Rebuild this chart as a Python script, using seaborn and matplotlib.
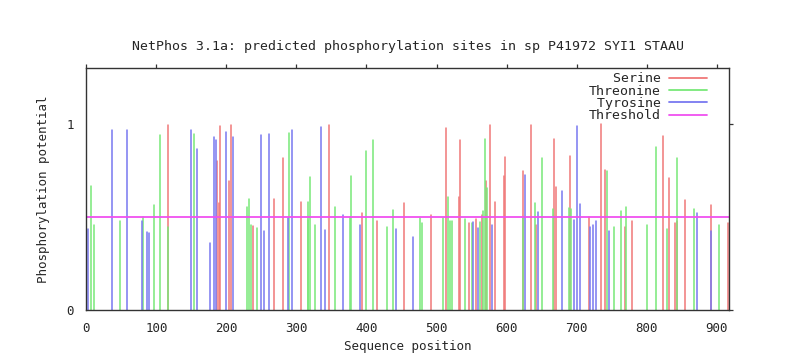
import pandas as pd
import matplotlib
matplotlib.use('Agg')
import matplotlib.pyplot as plt
from matplotlib.lines import Line2D
import seaborn as sns

# values (position, score)
serine_pos = [116, 187, 189, 191, 204, 206, 238, 268, 281, 306, 346, 393, 415.5,
              453.5, 492, 513, 532, 533.5, 546, 556, 565, 570, 577, 584, 597, 598,
              623, 634.5, 642, 668, 671, 690.5, 717, 735, 740, 769, 779, 824, 832,
              840.5, 844, 855, 892, 916.5]
serine_val = [0.996, 0.80, 0.575, 0.991, 0.696, 0.996, 0.454, 0.596, 0.82, 0.583,
              0.996, 0.521, 0.479, 0.578, 0.51, 0.978, 0.607, 0.915, 0.467, 0.488,
              0.512, 0.696, 0.996, 0.583, 0.723, 0.822, 0.75, 0.996, 0.458, 0.921,
              0.661, 0.829, 0.499, 1.0, 0.754, 0.445, 0.479, 0.937, 0.709, 0.467,
              0.48, 0.592, 0.565, 0.47]

threonine_pos = [6.3, 11, 48, 81, 96, 105, 117, 154, 230, 232, 235, 243, 289, 316.5,
                 317, 320, 326.5, 355.5, 376.5, 378, 399, 409, 429, 438, 476, 479,
                 509, 516, 519, 521.5, 541, 550, 562, 567, 569, 572, 624, 640.5,
                 650.5, 667, 689.5, 692.5, 743, 753, 763, 771, 800.5, 814, 829, 844,
                 868, 903]
threonine_val = [0.668, 0.458, 0.479, 0.502, 0.565, 0.942, 0.449, 0.948, 0.553, 0.596,
                 0.458, 0.443, 0.951, 0.485, 0.583, 0.718, 0.458, 0.556, 0.499, 0.723,
                 0.853, 0.915, 0.449, 0.539, 0.497, 0.467, 0.497, 0.607, 0.479, 0.479,
                 0.488, 0.467, 0.476, 0.53, 0.919, 0.655, 0.50, 0.575, 0.817, 0.542,
                 0.548, 0.542, 0.749, 0.449, 0.535, 0.553, 0.458, 0.879, 0.434, 0.817,
                 0.542, 0.458]

tyrosine_pos = [2.4, 37, 58, 79, 87, 89, 150, 158.5, 177, 183, 185, 199.5, 209.5, 250,
                253, 261, 288, 294, 335, 341, 367, 391, 442, 466, 552.5, 559, 579, 627,
                645, 679, 696, 701, 705, 719.5, 723, 728, 746, 872, 892.5]
tyrosine_val = [0.436, 0.966, 0.969, 0.479, 0.42, 0.413, 0.969, 0.865, 0.362, 0.928,
                0.915, 0.958, 0.933, 0.941, 0.425, 0.946, 0.494, 0.969, 0.984, 0.431,
                0.51, 0.458, 0.436, 0.391, 0.476, 0.44, 0.458, 0.727, 0.528, 0.639,
                0.485, 0.991, 0.569, 0.449, 0.458, 0.479, 0.425, 0.521, 0.425]

threshold = 0.5
seq_len = 918

residues = ['Serine', 'Threonine', 'Tyrosine']
colors = {'Serine': '#f07878', 'Threonine': '#78e878', 'Tyrosine': '#7878f0'}
thr_color = '#f050f0'

# each site as a vertical segment: (pos, 0) -> (pos, score)
rows = []
site = 0
for name, ps, vs in [('Serine', serine_pos, serine_val),
                     ('Threonine', threonine_pos, threonine_val),
                     ('Tyrosine', tyrosine_pos, tyrosine_val)]:
    for p, v in zip(ps, vs):
        rows.append({'pos': p, 'score': 0.0, 'residue': name, 'site': site})
        rows.append({'pos': p, 'score': v, 'residue': name, 'site': site})
        site += 1
df = pd.DataFrame(rows)

sns.set_style('white')
plt.rcParams['font.family'] = ['DejaVu Sans Mono']
plt.rcParams['font.size'] = 9

fig = plt.figure(figsize=(8.03, 3.59), dpi=100)
ax = fig.add_axes([0.1075, 0.1365, 0.8007, 0.6732])

sns.lineplot(data=df, x='pos', y='score', hue='residue', units='site',
             estimator=None, sort=False, palette=colors, hue_order=residues,
             linewidth=1.1, legend=False, ax=ax)
ax.axhline(threshold, color=thr_color, linewidth=1.3)

ax.set_xlim(0, seq_len)
ax.set_ylim(0, 1.3)
ax.set_xticks(range(0, 901, 100))
ax.set_yticks([0, 1])
ax.set_yticklabels(['0', '1'])
ax.tick_params(direction='out', length=3, width=0.9, color='#333333',
               top=True, right=True, labeltop=False, labelright=False,
               labelsize=9, pad=6)
for s in ax.spines.values():
    s.set_color('#333333')
    s.set_linewidth(1.0)

ax.set_xlabel('Sequence position', fontsize=9, labelpad=3)
ax.set_ylabel('Phosphorylation potential', fontsize=9, labelpad=12)
ax.set_title('NetPhos 3.1a: predicted phosphorylation sites in sp P41972 SYI1 STAAU',
             fontsize=9.5, pad=13)

handles = [Line2D([], [], color=colors[r], lw=1.3) for r in residues]
handles.append(Line2D([], [], color=thr_color, lw=1.3))
labels = [t.rjust(9) for t in residues + ['Threshold']]
fig.legend(handles, labels, loc='upper right', bbox_to_anchor=(0.889, 0.817),
           frameon=False, markerfirst=False, handlelength=2.9, handletextpad=0.6,
           labelspacing=-0.05, borderpad=0, fontsize=9.5)

fig.savefig('out.png', dpi=100)
